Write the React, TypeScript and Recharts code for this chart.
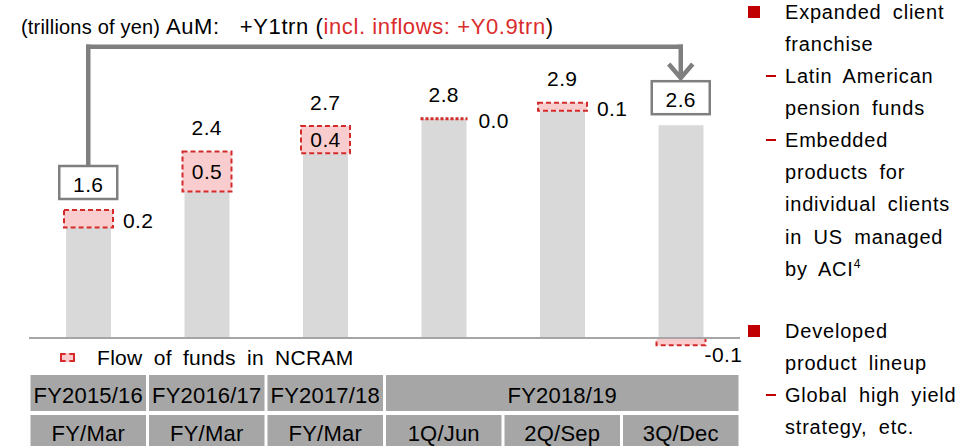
import { ComposedChart, Bar, Line, XAxis, YAxis, ReferenceLine, ReferenceDot, LabelList } from 'recharts';

const fiscalYears = ['FY2015/16', 'FY2016/17', 'FY2017/18', 'FY2018/19', 'FY2018/19', 'FY2018/19'];
const periods = ['FY/Mar', 'FY/Mar', 'FY/Mar', '1Q/Jun', '2Q/Sep', '3Q/Dec'];
const baseAum = [1.38, 1.83, 2.31, 2.74, 2.84, 2.66];
const flows = [0.22, 0.5, 0.34, 0.0, 0.1, -0.09];
const flowLabels = ['0.2', '0.5', '0.4', '0.0', '0.1', '-0.1'];
const totalLabels = ['1.6', '2.4', '2.7', '2.8', '2.9', '2.6'];

const FONT = '"Liberation Sans", Arial, sans-serif';
const RED = '#D42A2A';
const GRAY_LINE = '#7F7F7F';
const CELL = '#A6A6A6';

const W = 978;
const H = 446;
const AXIS_H = 76;
const M = { top: 18, right: 238, left: 29, bottom: 0 };
const BAND = (W - M.left - M.right) / periods.length;

// arrow from first to last box (value units)
const ARROW_START = 2.16;
const ARROW_TOP = 3.64;
const ARROW_END = 3.25;

const data = periods.map((p, i) => ({
  name: `${fiscalYears[i]} ${p}`,
  base: baseAum[i],
  flow: flows[i],
  top: Math.max(baseAum[i], baseAum[i] + flows[i]),
  flowLabel: flowLabels[i],
  totalLabel: totalLabels[i],
}));

const firstName = data[0].name;
const lastName = data[data.length - 1].name;

const labelStyle = { fontSize: 21, fontFamily: FONT, letterSpacing: 0.4 };

function FlowShape(props: any) {
  const { x, y, width, height } = props;
  const top = Math.min(y, y + height);
  const h = Math.abs(height);
  if (h < 1) {
    return <line x1={x - 1} x2={x + width + 1} y1={top} y2={top} stroke={RED} strokeWidth={3} strokeDasharray="3 2" />;
  }
  return (
    <rect x={x - 2} y={top} width={width + 4} height={h} fill="#F9CDCD" stroke={RED} strokeWidth={2} strokeDasharray="5 3" />
  );
}

function FlowLabel(props: any) {
  const { x, y, width, height, value } = props;
  const top = Math.min(y, y + height);
  const h = Math.abs(height);
  const num = parseFloat(value);
  if (Math.abs(num) >= 0.3) {
    return (
      <text x={x + width / 2} y={top + h / 2} textAnchor="middle" dominantBaseline="central" style={labelStyle} fill="#000">
        {value}
      </text>
    );
  }
  if (num < 0) {
    return (
      <text x={x + width + 1} y={top + h + 9} textAnchor="start" dominantBaseline="central" style={labelStyle} fill="#000">
        {value}
      </text>
    );
  }
  return (
    <text x={x + width + 12} y={top + h / 2 + 2} textAnchor="start" dominantBaseline="central" style={labelStyle} fill="#000">
      {value}
    </text>
  );
}

function TotalLabel(props: any) {
  const { x, y, value, index } = props;
  const boxed = index === 0 || index === data.length - 1;
  if (boxed) {
    const bh = 33;
    const bw = 58;
    const by = y - 11 - bh;
    return (
      <g>
        <rect x={x - bw / 2} y={by} width={bw} height={bh} fill="#fff" stroke={GRAY_LINE} strokeWidth={2.5} />
        <text x={x} y={by + bh / 2 + 2} textAnchor="middle" dominantBaseline="central" style={labelStyle} fill="#000">
          {value}
        </text>
      </g>
    );
  }
  return (
    <text x={x} y={y - 24} textAnchor="middle" dominantBaseline="central" style={labelStyle} fill="#000">
      {value}
    </text>
  );
}

const cellText = { fontSize: 22, fontFamily: FONT, letterSpacing: 0.2 };

function TableTick(props: any) {
  const { x, y, payload } = props;
  const i = payload.index;
  const fy = fiscalYears[i];
  const isStart = i === 0 || fiscalYears[i - 1] !== fy;
  let span = 1;
  while (i + span < fiscalYears.length && fiscalYears[i + span] === fy) span++;
  const left = x - BAND / 2;
  return (
    <g>
      {isStart && (
        <g>
          <rect x={left + 1.5} y={y + 5} width={BAND * span - 3} height={36} fill={CELL} />
          <text x={left + (BAND * span) / 2} y={y + 25} textAnchor="middle" dominantBaseline="central" style={cellText} fill="#000">
            {fy}
          </text>
        </g>
      )}
      <rect x={left + 1.5} y={y + 45} width={BAND - 3} height={40} fill={CELL} />
      <text x={x} y={y + 63} textAnchor="middle" dominantBaseline="central" style={cellText} fill="#000">
        {periods[i]}
      </text>
    </g>
  );
}

function Chevron(props: any) {
  const { cx, cy } = props;
  return (
    <path d={`M${cx - 12},${cy - 14} L${cx},${cy} L${cx + 12},${cy - 14}`} fill="none" stroke={GRAY_LINE} strokeWidth={4.5} strokeLinejoin="miter" />
  );
}

const bullets = [
  { y: 12, kind: 'square', text: 'Expanded client' },
  { y: 44, kind: 'none', text: 'franchise' },
  { y: 76, kind: 'dash', text: 'Latin American' },
  { y: 108, kind: 'none', text: 'pension funds' },
  { y: 140, kind: 'dash', text: 'Embedded' },
  { y: 172, kind: 'none', text: 'products for' },
  { y: 204, kind: 'none', text: 'individual clients' },
  { y: 237, kind: 'none', text: 'in US managed' },
  { y: 269, kind: 'none', text: 'by ACI', sup: '4' },
  { y: 331, kind: 'square', text: 'Developed' },
  { y: 363, kind: 'none', text: 'product lineup' },
  { y: 395, kind: 'dash', text: 'Global high yield' },
  { y: 427, kind: 'none', text: 'strategy, etc.' },
];

export default function App() {
  return (
    <div style={{ position: 'absolute', left: 0, top: 0, width: W, height: H, overflow: 'hidden', background: '#fff', fontFamily: FONT }}>
      <ComposedChart width={W} height={H} data={data} margin={M} stackOffset="sign">
        <YAxis hide type="number" domain={[-0.4, 4.0]} allowDataOverflow />
        <XAxis dataKey="name" axisLine={false} tickLine={false} tickSize={0} tickMargin={0} height={AXIS_H} interval={0} tick={<TableTick />} />
        <ReferenceLine y={0} stroke={CELL} strokeWidth={2} />
        <Bar dataKey="base" stackId="a" fill="#D9D9D9" barSize={45} isAnimationActive={false} />
        <Bar dataKey="flow" stackId="a" barSize={45} shape={<FlowShape />} isAnimationActive={false}>
          <LabelList dataKey="flowLabel" content={<FlowLabel />} />
        </Bar>
        <Line dataKey="top" stroke="none" dot={false} activeDot={false} legendType="none" isAnimationActive={false}>
          <LabelList dataKey="totalLabel" content={<TotalLabel />} />
        </Line>
        <ReferenceLine segment={[{ x: firstName, y: ARROW_START }, { x: firstName, y: ARROW_TOP }]} stroke={GRAY_LINE} strokeWidth={4.5} strokeLinecap="square" />
        <ReferenceLine segment={[{ x: firstName, y: ARROW_TOP }, { x: lastName, y: ARROW_TOP }]} stroke={GRAY_LINE} strokeWidth={4.5} strokeLinecap="square" />
        <ReferenceLine segment={[{ x: lastName, y: ARROW_TOP }, { x: lastName, y: ARROW_END + 0.03 }]} stroke={GRAY_LINE} strokeWidth={4.5} strokeLinecap="square" />
        <ReferenceDot x={lastName} y={ARROW_END} shape={<Chevron />} />
      </ComposedChart>

      <div style={{ position: 'absolute', left: 21, top: 13, whiteSpace: 'nowrap', color: '#000', lineHeight: '28px' }}>
        <span style={{ fontSize: 20, letterSpacing: 0.2 }}>(trillions of yen) </span>
        <span style={{ fontSize: 22, letterSpacing: 0.6 }}>AuM:&nbsp;&nbsp; +Y1trn (</span>
        <span style={{ fontSize: 22, letterSpacing: 0.6, color: '#DA2C2C' }}>incl. inflows: +Y0.9trn</span>
        <span style={{ fontSize: 22 }}>)</span>
      </div>

      <div style={{ position: 'absolute', left: 60, top: 353, width: 15, height: 9, border: `2px dashed ${RED}`, boxSizing: 'border-box', background: '#F9CDCD' }} />
      <div style={{ position: 'absolute', left: 97, top: 344, fontSize: 21, lineHeight: '28px', whiteSpace: 'nowrap', wordSpacing: 5, letterSpacing: 0.3 }}>
        Flow of funds in NCRAM
      </div>

      {bullets.map((b, i) => (
        <div key={i}>
          {b.kind === 'square' && (
            <div style={{ position: 'absolute', left: 748, top: b.y - 6, width: 12, height: 12, background: '#C00000' }} />
          )}
          {b.kind === 'dash' && (
            <div style={{ position: 'absolute', left: 766, top: b.y - 1, width: 10, height: 2, background: '#C00000' }} />
          )}
          <div style={{ position: 'absolute', left: 785, top: b.y - 14, fontSize: 20, lineHeight: '28px', whiteSpace: 'nowrap', wordSpacing: 5, letterSpacing: 0.8 }}>
            {b.text}
            {b.sup && <sup style={{ fontSize: 12, lineHeight: 0 }}>{b.sup}</sup>}
          </div>
        </div>
      ))}
    </div>
  );
}
